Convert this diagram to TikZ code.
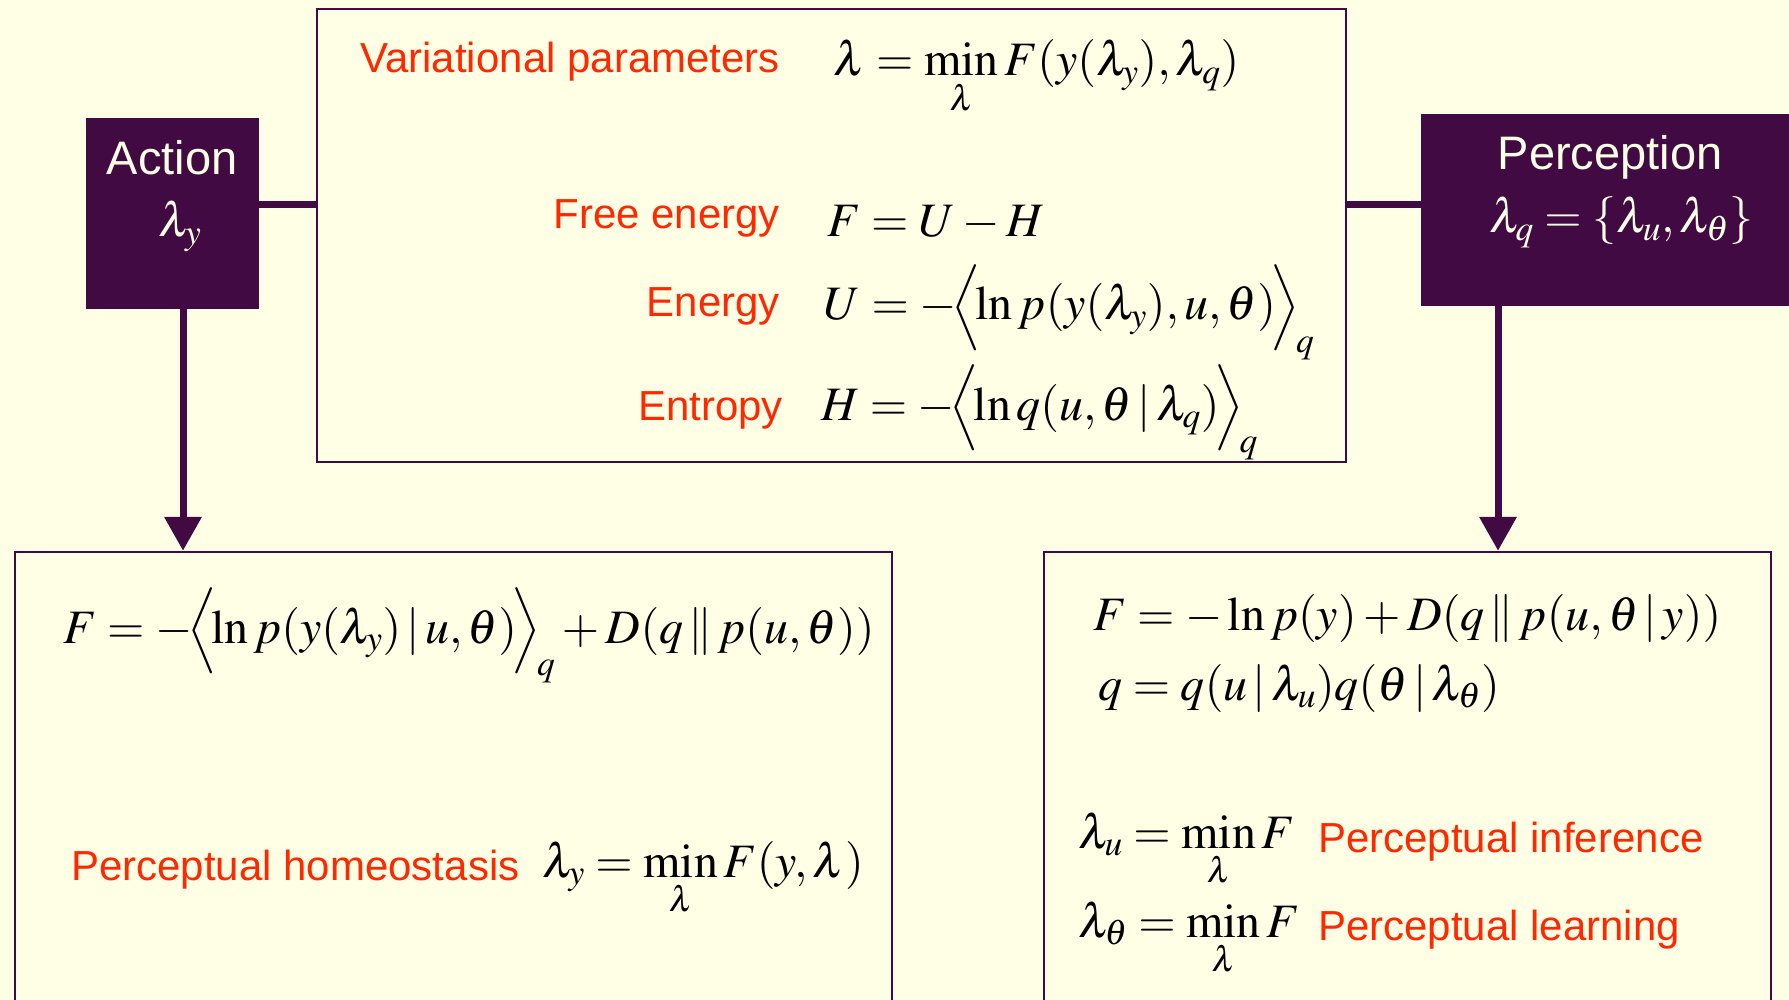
\documentclass[tikz,border=0pt]{standalone}
\usepackage{mathptmx}
\usepackage[no-math]{fontspec}
\setmainfont{Liberation Sans}
\usetikzlibrary{arrows.meta}
\definecolor{bg}{RGB}{255,255,230}
\definecolor{plum}{RGB}{66,10,66}
\definecolor{lblred}{RGB}{255,40,0}
\begin{document}
\begin{tikzpicture}[x=1pt,y=-1pt,
  panel/.style={draw=plum,line width=2.5pt,fill=bg,inner sep=0pt},
  darkbox/.style={fill=plum,draw=none,inner sep=0pt},
  lbl/.style={text=lblred,font=\fontsize{42}{50}\selectfont,inner sep=0pt},
  head/.style={text=bg,font=\fontsize{47}{56}\selectfont,inner sep=0pt},
  eq/.style={text=black,font=\fontsize{48}{58}\selectfont,inner sep=0pt},
  weq/.style={text=bg,font=\fontsize{48}{58}\selectfont,inner sep=0pt},
  conn/.style={draw=plum,line width=7pt},
  arr/.style={conn,-{Triangle[width=36pt,length=34pt]}}]
\fill[bg] (0,0) rectangle (1789,1000);
\useasboundingbox (0,0) rectangle (1789,1000);
% boxes
\node[panel,minimum width=1029pt,minimum height=453pt] (cbox) at (831.5,235.5) {};
\node[darkbox,minimum width=173pt,minimum height=191pt] (act) at (172.5,213.5) {};
\node[darkbox,minimum width=378pt,minimum height=192pt] (per) at (1610,210) {};
\node[panel,minimum width=877pt,minimum height=458pt] (blbox) at (453.5,781) {};
\node[panel,minimum width=727pt,minimum height=458pt] (brbox) at (1407.5,781) {};
% connectors
\draw[conn] ([yshift=8.5pt]act.east) -- ([yshift=8.5pt]act.east -| cbox.west);
\draw[conn] ([yshift=5pt]per.west) -- ([yshift=5pt]per.west -| cbox.east);
\draw[arr] ([xshift=10.5pt]act.south) -- ([xshift=10.5pt]act.south |- blbox.north);
\draw[arr] ([xshift=-112pt]per.south) -- ([xshift=-112pt]per.south |- brbox.north);
% header texts
\node[head,anchor=base] (acttxt) at (172,175) {Action};
\node[weq,anchor=base] (actlam) at (180,237) {$\lambda_y$};
\node[head,anchor=base] (pertxt) at (1610,170) {Perception};
\node[weq,anchor=base west] (perlam) at (1489,233) {$\lambda_q = \{\lambda_u,\lambda_\theta\}$};
% central box
\node[lbl,anchor=base east] (l1) at (780,73) {Variational parameters};
\node[eq,anchor=base west] (e1) at (833,76) {$\displaystyle\lambda = \min_{\lambda} F(y(\lambda_y),\lambda_q)$};
\node[lbl,anchor=base east] (l2) at (780,229) {Free energy};
\node[eq,anchor=base west] (e2) at (827,237) {$F = U - H$};
\node[lbl,anchor=base east] (l3) at (780,317) {Energy};
\node[eq,anchor=base west] (e3) at (824,320) {$U = -\!\Bigl\langle\! \ln p(y(\lambda_y),u,\theta)\!\Bigr\rangle_{\!q}$};
\node[lbl,anchor=base east] (l4) at (783,420) {Entropy};
\node[eq,anchor=base west] (e4) at (821,420) {$H = -\!\Bigl\langle\! \ln q(u,\theta\,|\,\lambda_q)\!\Bigr\rangle_{\!q}$};
% bottom left
\node[eq,anchor=base west] (b1) at (63,643) {$F = -\!\Bigl\langle\! \ln p(y(\lambda_y)\,|\,u,\theta)\!\Bigr\rangle_{\!q} + D(q\,\|\,p(u,\theta))$};
\node[lbl,anchor=base west] (b2l) at (71,880) {Perceptual homeostasis};
\node[eq,anchor=base west] (b2) at (542,877) {$\displaystyle\lambda_y = \min_{\lambda} F(y,\lambda)$};
% bottom right
\node[eq,anchor=base west] (r1) at (1093,630) {$F = -\ln p(y) + D(q\,\|\,p(u,\theta\,|\,y))$};
\node[eq,anchor=base west] (r2) at (1098,700) {$q = q(u\,|\,\lambda_u)q(\theta\,|\,\lambda_\theta)$};
\node[eq,anchor=base west] (r3) at (1078,848) {$\displaystyle\lambda_u = \min_{\lambda} F$};
\node[lbl,anchor=base west] (r3l) at (1318,852) {Perceptual inference};
\node[eq,anchor=base west] (r4) at (1078,937) {$\displaystyle\lambda_\theta = \min_{\lambda} F$};
\node[lbl,anchor=base west] (r4l) at (1318,940) {Perceptual learning};
\end{tikzpicture}
\end{document}
